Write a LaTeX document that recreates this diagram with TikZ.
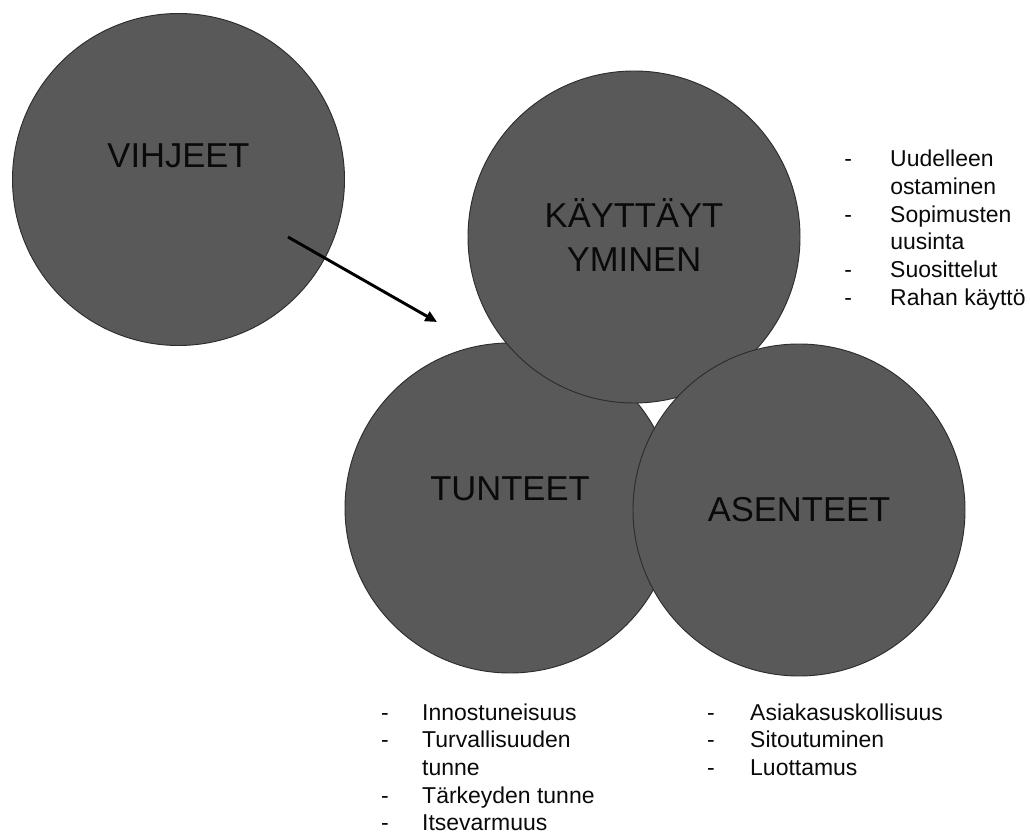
\documentclass[tikz,border=0pt]{standalone}
\usepackage{fontspec}
\setmainfont{Liberation Sans}
\usepackage{tikz}
\usetikzlibrary{arrows.meta, positioning}
\definecolor{harmaaPallo}{RGB}{89, 89, 89}
\definecolor{harmaaReuna}{RGB}{45, 45, 45}
\definecolor{mustaTeksti}{RGB}{10, 10, 10}

\begin{document}
\begin{tikzpicture}[
  blob/.style={circle, fill=harmaaPallo, draw=harmaaReuna, line width=0.8pt,
    minimum size=9.96cm, inner sep=0pt},
  title/.style={font=\fontsize{29.5}{37.5}\selectfont, text=mustaTeksti,
    align=center, inner sep=0pt},
  items/.style={font=\fontsize{19.6}{23.6}\selectfont, text=mustaTeksti,
    inner sep=0pt, anchor=base west},
  pointer/.style={line width=2.5pt, draw=black,
    -{Triangle[length=10pt, width=9pt]}},
]
\useasboundingbox (0,0) rectangle (30.9,25.14);
\node[blob] (vihjeet) at (5.355, 19.755) {};
\node[title] (vihjeetTxt) at ([yshift=0.72cm]vihjeet.center) {VIHJEET};
\node[blob, minimum size=9.9cm] (tunteet) at (15.30, 9.90) {};
\node[title] (tunteetTxt) at ([yshift=0.585cm]tunteet.center) {TUNTEET};
\node[blob] (kayttaytyminen) at (19.02, 18.03) {};
\node[title] (kayttaytyminenTxt) at ([yshift=0.06cm]kayttaytyminen.center)
  {KÄYTTÄYT\\YMINEN};
\node[blob] (asenteet) at (23.97, 9.84) {};
\node[title] (asenteetTxt) at (asenteet.center) {ASENTEET};
% nuoli vihjeista kohti muita
\coordinate (nuoliAlku) at ([shift={(3.285,-1.725)}]vihjeet.center);
\coordinate (nuoliLoppu) at (13.11, 15.48);
\draw[pointer] (nuoliAlku) -- (nuoliLoppu);
% luettelot
\node[items] (kayttaytyminenList) at (25.32, 20.13)
  {\begin{tabular}[t]{@{}p{1.38cm}@{}l@{}}
    - & Uudelleen\\ & ostaminen\\ - & Sopimusten\\ & uusinta\\
    - & Suosittelut\\ - & Rahan käyttö
  \end{tabular}};
\node[items] (tunteetList) at (11.43, 3.53)
  {\begin{tabular}[t]{@{}p{1.23cm}@{}l@{}}
    - & Innostuneisuus\\ - & Turvallisuuden\\ & tunne\\
    - & Tärkeyden tunne\\ - & Itsevarmuus
  \end{tabular}};
\node[items] (asenteetList) at (21.21, 3.53)
  {\begin{tabular}[t]{@{}p{1.29cm}@{}l@{}}
    - & Asiakasuskollisuus\\ - & Sitoutuminen\\ - & Luottamus
  \end{tabular}};
\end{tikzpicture}
\end{document}
